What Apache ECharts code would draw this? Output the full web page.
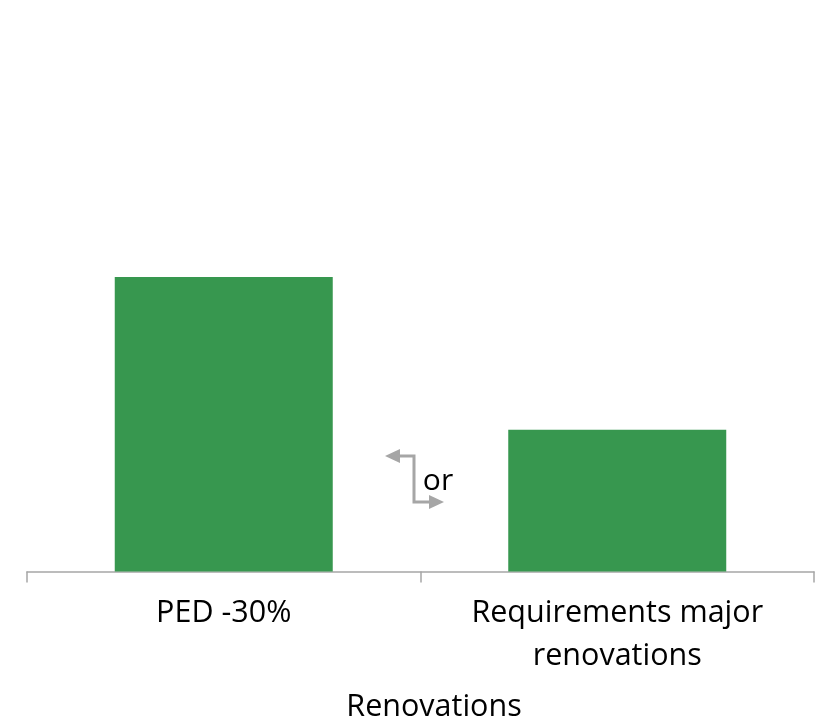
<!DOCTYPE html>
<html><head><meta charset="utf-8">
<script src="https://cdn.jsdelivr.net/npm/echarts@6/dist/echarts.min.js"></script>
<style>html,body{margin:0;padding:0;background:#fff}#c{width:826px;height:720px}</style>
</head><body><div id="c"></div>
<script>
const categories = ['PED -30%', 'Requirements major\nrenovations'];
const values = [53.4, 25.7];
const axisName = 'Renovations';
const annotationText = 'or';

const chart = echarts.init(document.getElementById('c'));
const grey = '#A6A6A6';
const font = 'Open Sans';
chart.setOption({
  animation: false,
  grid: { left: 27, right: 12, top: 20, bottom: 148.5, containLabel: false, outerBoundsMode: 'none' },
  xAxis: {
    type: 'category', data: categories,
    name: axisName, nameLocation: 'middle', nameGap: 116,
    nameTextStyle: { fontSize: 30.5, lineHeight: 40, color: '#000', fontFamily: font, padding: [0, 0, 0, 27] },
    axisLine: { lineStyle: { color: grey, width: 1.5 } },
    axisTick: { show: true, length: 11, lineStyle: { color: grey, width: 1.5 } },
    axisLabel: { fontSize: 30.5, color: '#000', fontFamily: font, margin: 20, lineHeight: 43, interval: 0 }
  },
  yAxis: { type: 'value', min: 0, max: 100, show: false, splitLine: { show: false } },
  series: [{
    type: 'bar', data: values, barCategoryGap: '44.6%',
    itemStyle: { color: '#37974F' }
  }],
  graphic: [
    { type: 'polyline', shape: { points: [[395, 456], [414, 456], [414, 502], [435, 502]] },
      style: { stroke: grey, lineWidth: 3, fill: null } },
    { type: 'polygon', shape: { points: [[385, 456], [400, 449], [400, 463]] }, style: { fill: grey } },
    { type: 'polygon', shape: { points: [[444, 502], [429, 495], [429, 509]] }, style: { fill: grey } },
    { type: 'text', x: 438, y: 481, style: { text: annotationText, fontSize: 30, fontFamily: font, fill: '#000', align: 'center', verticalAlign: 'middle' } }
  ]
});
</script></body></html>
